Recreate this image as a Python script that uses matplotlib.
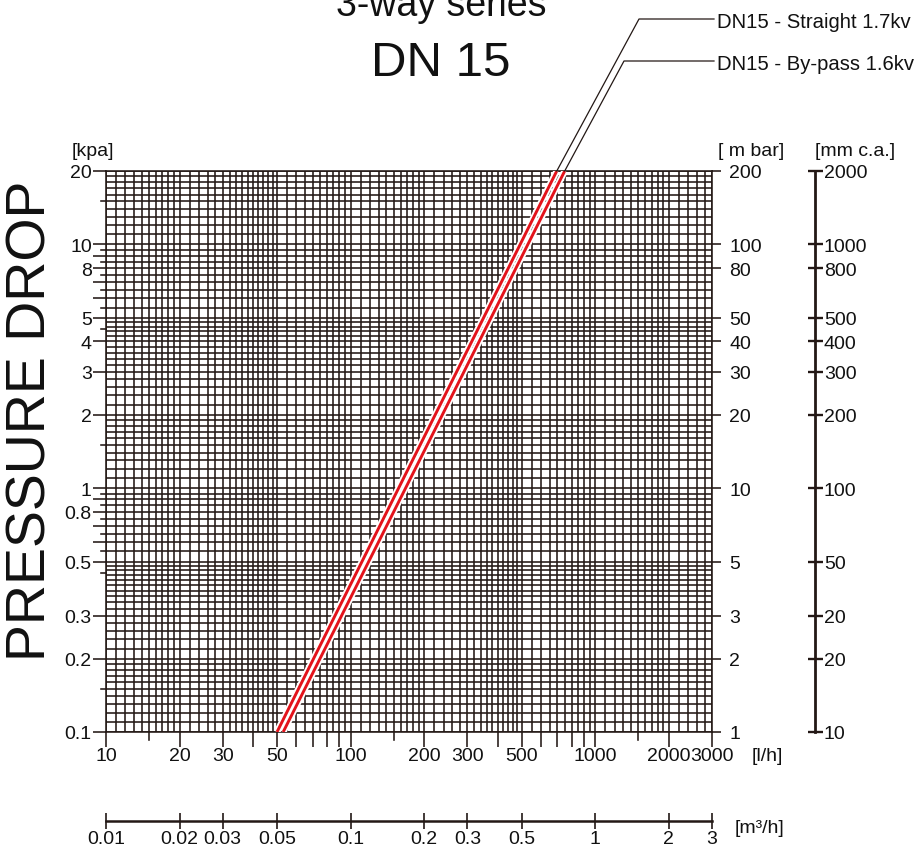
import numpy as np
import matplotlib
matplotlib.use("Agg")
import matplotlib.pyplot as plt
from matplotlib.ticker import FixedLocator, FixedFormatter, NullFormatter, NullLocator
import matplotlib.patheffects as pe
from matplotlib.lines import Line2D

plt.rcParams['font.family'] = ['Liberation Sans', 'DejaVu Sans']

# ---------------- data ----------------
series_labels = ["DN15 - Straight 1.7kv", "DN15 - By-pass 1.6kv"]
straight_flow = [50, 696]      # l/h
straight_dp = [0.1, 20]        # kPa
bypass_flow = [53, 750]        # l/h
bypass_dp = [0.1, 20]          # kPa

flow_ticks = [10, 20, 30, 50, 100, 200, 300, 500, 1000, 2000, 3000]
flow_tick_labels = ['10', '20', '30', '50', '100', '200', '300', '500', '1000', '2000', '3000']
flow_minor_long = [40, 60, 70, 80, 90, 400, 600, 700, 800, 900]
flow_minor_short = [15, 150, 1500]

kpa_ticks = [20, 10, 8, 5, 4, 3, 2, 1, 0.8, 0.5, 0.3, 0.2, 0.1]
kpa_tick_labels = ['20', '10', '8', '5', '4', '3', '2', '1', '0.8', '0.5', '0.3', '0.2', '0.1']
kpa_minor_long = [9, 7, 6, 0.9, 0.7, 0.6]
kpa_minor_short = [15, 9.5, 8.5, 7.5, 6.5, 5.5, 4.5, 1.5,
                   0.95, 0.85, 0.75, 0.65, 0.55, 0.45, 0.15]

mbar_pos = [20, 10, 8, 5, 4, 3, 2, 1, 0.5, 0.3, 0.2, 0.1]
mbar_labels = ['200', '100', '80', '50', '40', '30', '20', '10', '5', '3', '2', '1']
mmca_pos = [20, 10, 8, 5, 4, 3, 2, 1, 0.5, 0.3, 0.2, 0.1]
mmca_labels = ['2000', '1000', '800', '500', '400', '300', '200', '100', '50', '20', '20', '10']

m3h_ticks = [0.01, 0.02, 0.03, 0.05, 0.1, 0.2, 0.3, 0.5, 1, 2, 3]
m3h_labels = ['0.01', '0.02', '0.03', '0.05', '0.1', '0.2', '0.3', '0.5', '1', '2', '3']

grid_mantissas = [1.0, 1.1, 1.2, 1.3, 1.4, 1.5, 1.6, 1.7, 1.8, 1.9,
                  2.0, 2.2, 2.4, 2.6, 2.8, 3.0, 3.2, 3.4, 3.6, 3.8,
                  4.0, 4.2, 4.4, 4.6, 4.8,
                  5.0, 5.5, 6.0, 6.5, 7.0, 7.5, 8.0, 8.5, 9.0, 9.5]

# ---------------- layout ----------------
W, H = 923, 854
fig = plt.figure(figsize=(W / 100, H / 100), dpi=100)
fig.patch.set_facecolor('white')

ink = '#231815'
txt = '#111111'
red = '#e3131b'
LS = 14

def fx(px):
    return px / W

def fy(py):
    return 1 - py / H

ax_l, ax_r, ax_t, ax_b = 106, 712, 172, 733
ax = fig.add_axes([fx(ax_l), fy(ax_b), (ax_r - ax_l) / W, (ax_b - ax_t) / H])
ax.set_xscale('log')
ax.set_yscale('log')
ax.set_xlim(10, 3000)
ax.set_ylim(0.1, 20)

# grid
xg = [m * 10 ** e for e in (1, 2, 3) for m in grid_mantissas if 10 <= m * 10 ** e <= 3000]
yg = [m * 10 ** e for e in (-1, 0, 1) for m in grid_mantissas if 0.1 <= m * 10 ** e <= 20]
ax.vlines(xg, 0.1, 20, color=ink, lw=1.15, zorder=1)
ax.hlines(yg, 10, 3000, color=ink, lw=1.15, zorder=1)
for s in ax.spines.values():
    s.set_color(ink)
    s.set_linewidth(1.15)

# series
halo = [pe.Stroke(linewidth=4.8, foreground='white'), pe.Normal()]
ax.plot(straight_flow, straight_dp, color=red, lw=2.1, zorder=5, path_effects=halo,
        solid_capstyle='butt')
ax.plot(bypass_flow, bypass_dp, color=red, lw=2.1, zorder=5, path_effects=halo,
        solid_capstyle='butt')

# ticks main axes
ax.xaxis.set_major_locator(FixedLocator(flow_ticks))
ax.xaxis.set_major_formatter(FixedFormatter(flow_tick_labels))
ax.xaxis.set_minor_locator(FixedLocator(flow_minor_long))
ax.xaxis.set_minor_formatter(NullFormatter())
ax.yaxis.set_major_locator(FixedLocator(kpa_ticks))
ax.yaxis.set_major_formatter(FixedFormatter(kpa_tick_labels))
ax.yaxis.set_minor_locator(FixedLocator(kpa_minor_long))
ax.yaxis.set_minor_formatter(NullFormatter())
ax.tick_params(axis='x', which='both', direction='out', length=10.8, width=1.15,
               color=ink, pad=0, labelsize=LS, labelcolor=txt)
ax.tick_params(axis='y', which='both', direction='out', length=9.4, width=1.15,
               color=ink, pad=0.8, labelsize=LS, labelcolor=txt)

# short ticks
short_len_x = 5.5 / (ax_r - ax_l)
for v in kpa_minor_short:
    ax.plot([-short_len_x, 0], [v, v], transform=ax.get_yaxis_transform(),
            color=ink, lw=1.15, clip_on=False)
short_len_y = 8 / (ax_b - ax_t)
for v in flow_minor_short:
    ax.plot([v, v], [-short_len_y, 0], transform=ax.get_xaxis_transform(),
            color=ink, lw=1.15, clip_on=False)

# m bar axis (right)
axr = ax.twinx()
axr.set_yscale('log')
axr.set_ylim(0.1, 20)
axr.yaxis.set_major_locator(FixedLocator(mbar_pos))
axr.yaxis.set_major_formatter(FixedFormatter(mbar_labels))
axr.yaxis.set_minor_locator(NullLocator())
axr.tick_params(axis='y', which='major', direction='out', length=6.8, width=1.15,
                color=ink, pad=5.5, labelsize=LS, labelcolor=txt)
for s in axr.spines.values():
    s.set_visible(False)

# mm c.a. axis
mm_x = 815
axm = fig.add_axes([fx(mm_x - 20), fy(ax_b), 20 / W, (ax_b - ax_t) / H])
axm.patch.set_visible(False)
axm.set_yscale('log')
axm.set_ylim(0.1, 20)
for k, s in axm.spines.items():
    s.set_visible(k == 'right')
axm.spines['right'].set_color(ink)
axm.spines['right'].set_linewidth(2.0)
axm.set_xticks([])
axm.yaxis.tick_right()
axm.yaxis.set_major_locator(FixedLocator(mmca_pos))
axm.yaxis.set_major_formatter(FixedFormatter(mmca_labels))
axm.yaxis.set_minor_locator(NullLocator())
axm.tick_params(axis='y', which='major', direction='inout', length=10.8, width=1.7,
                color=ink, pad=1.0, labelsize=LS, labelcolor=txt)

# m3/h axis
m3_y = 822
axb = fig.add_axes([fx(ax_l), fy(m3_y), (ax_r - ax_l) / W, 0.0005])
axb.patch.set_visible(False)
axb.set_xscale('log')
axb.set_xlim(0.01, 3)
for k, s in axb.spines.items():
    s.set_visible(k == 'bottom')
axb.spines['bottom'].set_color(ink)
axb.spines['bottom'].set_linewidth(1.8)
axb.set_yticks([])
axb.xaxis.set_major_locator(FixedLocator(m3h_ticks))
axb.xaxis.set_major_formatter(FixedFormatter(m3h_labels))
axb.xaxis.set_minor_locator(NullLocator())
axb.tick_params(axis='x', which='major', direction='inout', length=11.5, width=1.2,
                color=ink, pad=0.5, labelsize=LS, labelcolor=txt)

# unit labels
fig.text(fx(72), fy(151), '[kpa]', ha='left', va='center', fontsize=LS, color=txt)
fig.text(fx(718), fy(151), '[ m bar]', ha='left', va='center', fontsize=LS, color=txt)
fig.text(fx(815), fy(151), '[mm c.a.]', ha='left', va='center', fontsize=LS, color=txt)
fig.text(fx(752), fy(757), '[l/h]', ha='left', va='center', fontsize=LS, color=txt)
fig.text(fx(735), fy(829), '[m³/h]', ha='left', va='center', fontsize=LS, color=txt)

# titles
fig.text(fx(441), fy(16), '3-way series', ha='center', va='baseline', fontsize=27,
         color=txt)
fig.text(fx(441), fy(76), 'DN 15', ha='center', va='baseline', fontsize=35.5,
         color=txt)
fig.text(fx(32), fy(421), 'PRESSURE DROP', ha='center', va='center', rotation=90,
         fontsize=40, color=txt)

# leaders + legend texts
leader_targets = [(straight_flow[-1], straight_dp[-1]), (bypass_flow[-1], bypass_dp[-1])]
bend_pts = [(639, 20), (624, 62)]
text_x = 717
for lab, tgt, (bx, by) in zip(series_labels, leader_targets, bend_pts):
    p = ax.transData.transform(tgt)
    pf = fig.transFigure.inverted().transform(p)
    fig.add_artist(Line2D([pf[0], fx(bx), fx(text_x - 3)], [pf[1], fy(by), fy(by)],
                          transform=fig.transFigure, color=ink, lw=0.9))
    fig.text(fx(text_x), fy(by + 2), lab, ha='left', va='center', fontsize=14.6,
             color=txt)

fig.savefig('out.png', dpi=100, facecolor='white')
